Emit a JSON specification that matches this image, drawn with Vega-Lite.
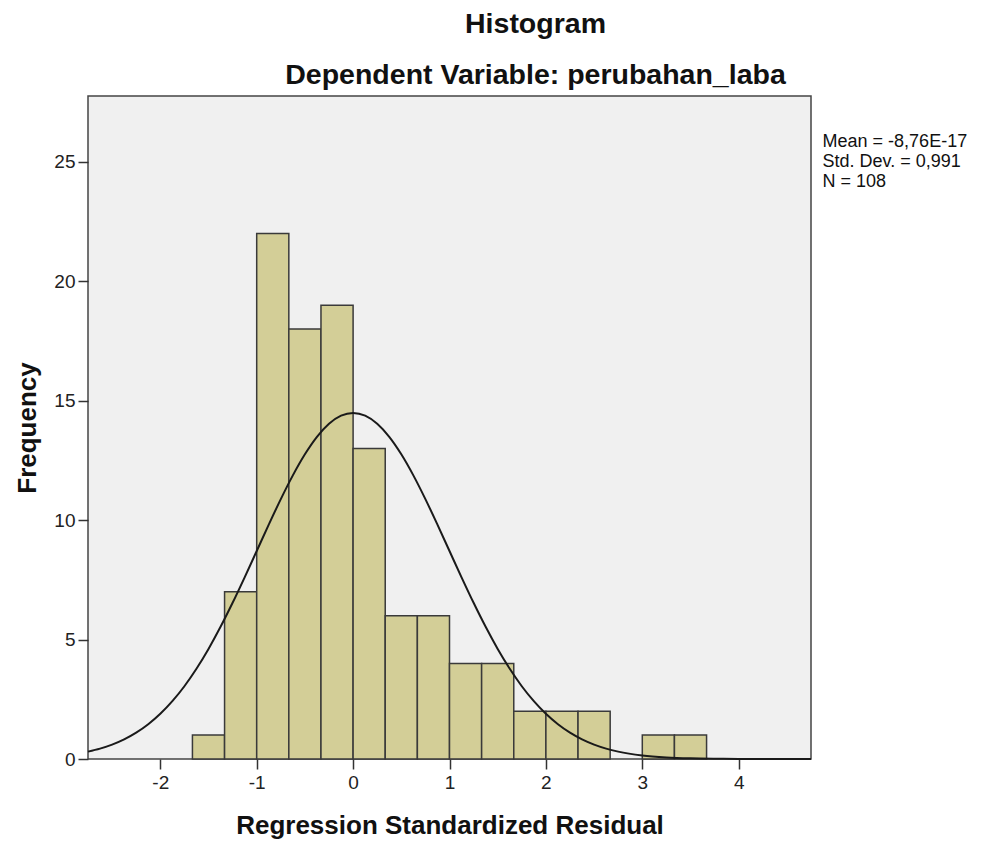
{
  "$schema": "https://vega.github.io/schema/vega-lite/v6.json",
  "autosize": {"type": "none"},
  "width": 723,
  "height": 663,
  "padding": {"left": 88, "top": 96, "right": 173, "bottom": 87},
  "background": "white",
  "title": {
    "text": "Histogram",
    "subtitle": "Dependent Variable: perubahan_laba",
    "anchor": "middle",
    "frame": "group",
    "dx": 86,
    "offset": 7,
    "font": "Liberation Sans",
    "fontSize": 28.5,
    "fontWeight": "bold",
    "color": "#111",
    "subtitleFont": "Liberation Sans",
    "subtitleFontSize": 28.5,
    "subtitleFontWeight": "bold",
    "subtitleColor": "#111",
    "subtitlePadding": 22
  },
  "config": {
    "font": "Liberation Sans",
    "view": {"fill": "#f0f0f0", "stroke": "#444", "strokeWidth": 1.5},
    "axis": {
      "domain": false,
      "grid": false,
      "ticks": true,
      "tickColor": "#333",
      "tickWidth": 1.5,
      "tickSize": 10,
      "labelFont": "Liberation Sans",
      "labelFontSize": 19,
      "labelColor": "#222",
      "titleFont": "Liberation Sans",
      "titleFontSize": 26,
      "titleFontWeight": "bold",
      "titleColor": "#111"
    }
  },
  "layer": [
    {
      "data": {
        "values": [
          {"start": -1.6667, "end": -1.3333, "count": 1},
          {"start": -1.3333, "end": -1.0, "count": 7},
          {"start": -1.0, "end": -0.6667, "count": 22},
          {"start": -0.6667, "end": -0.3333, "count": 18},
          {"start": -0.3333, "end": 0.0, "count": 19},
          {"start": 0.0, "end": 0.3333, "count": 13},
          {"start": 0.3333, "end": 0.6667, "count": 6},
          {"start": 0.6667, "end": 1.0, "count": 6},
          {"start": 1.0, "end": 1.3333, "count": 4},
          {"start": 1.3333, "end": 1.6667, "count": 4},
          {"start": 1.6667, "end": 2.0, "count": 2},
          {"start": 2.0, "end": 2.3333, "count": 2},
          {"start": 2.3333, "end": 2.6667, "count": 2},
          {"start": 3.0, "end": 3.3333, "count": 1},
          {"start": 3.3333, "end": 3.6667, "count": 1}
        ]
      },
      "mark": {"type": "rect", "fill": "#d3ce97", "stroke": "#3a3a3a", "strokeWidth": 1.5},
      "encoding": {
        "x": {
          "field": "start",
          "type": "quantitative",
          "scale": {"domain": [-2.75, 4.75], "nice": false, "zero": false},
          "axis": {
            "values": [-2, -1, 0, 1, 2, 3, 4],
            "labelExpr": "'' + datum.value",
            "title": "Regression Standardized Residual",
            "labelPadding": 4,
            "titlePadding": 20
          }
        },
        "x2": {"field": "end"},
        "y": {
          "field": "count",
          "type": "quantitative",
          "scale": {"domain": [0, 27.76], "nice": false},
          "axis": {
            "values": [0, 5, 10, 15, 20, 25],
            "labelExpr": "'' + datum.value",
            "title": "Frequency",
            "labelPadding": 3,
            "titlePadding": 13
          }
        },
        "y2": {"datum": 0}
      }
    },
    {
      "data": {
        "values": [
          {"x": -2.75, "y": 0.308}, {"x": -2.625, "y": 0.434}, {"x": -2.5, "y": 0.601},
          {"x": -2.375, "y": 0.820}, {"x": -2.25, "y": 1.101}, {"x": -2.125, "y": 1.454},
          {"x": -2.0, "y": 1.891}, {"x": -1.875, "y": 2.420}, {"x": -1.75, "y": 3.047},
          {"x": -1.625, "y": 3.778}, {"x": -1.5, "y": 4.608}, {"x": -1.375, "y": 5.534},
          {"x": -1.25, "y": 6.540}, {"x": -1.125, "y": 7.607}, {"x": -1.0, "y": 8.709},
          {"x": -0.875, "y": 9.813}, {"x": -0.75, "y": 10.882}, {"x": -0.625, "y": 11.876},
          {"x": -0.5, "y": 12.758}, {"x": -0.375, "y": 13.489}, {"x": -0.25, "y": 14.037},
          {"x": -0.125, "y": 14.375}, {"x": 0.0, "y": 14.49}, {"x": 0.125, "y": 14.375},
          {"x": 0.25, "y": 14.037}, {"x": 0.375, "y": 13.489}, {"x": 0.5, "y": 12.758},
          {"x": 0.625, "y": 11.876}, {"x": 0.75, "y": 10.882}, {"x": 0.875, "y": 9.813},
          {"x": 1.0, "y": 8.709}, {"x": 1.125, "y": 7.607}, {"x": 1.25, "y": 6.540},
          {"x": 1.375, "y": 5.534}, {"x": 1.5, "y": 4.608}, {"x": 1.625, "y": 3.778},
          {"x": 1.75, "y": 3.047}, {"x": 1.875, "y": 2.420}, {"x": 2.0, "y": 1.891},
          {"x": 2.125, "y": 1.454}, {"x": 2.25, "y": 1.101}, {"x": 2.375, "y": 0.820},
          {"x": 2.5, "y": 0.601}, {"x": 2.625, "y": 0.434}, {"x": 2.75, "y": 0.308},
          {"x": 3.0, "y": 0.148}, {"x": 3.25, "y": 0.067}, {"x": 3.5, "y": 0.028},
          {"x": 3.75, "y": 0.011}, {"x": 4.0, "y": 0.004}, {"x": 4.25, "y": 0.001},
          {"x": 4.5, "y": 0.0}, {"x": 4.75, "y": 0.0}
        ]
      },
      "mark": {"type": "line", "color": "#1a1a1a", "strokeWidth": 2, "interpolate": "monotone"},
      "encoding": {
        "x": {"field": "x", "type": "quantitative"},
        "y": {"field": "y", "type": "quantitative"}
      }
    },
    {
      "data": {"values": [{"stats": ["Mean = -8,76E-17", "Std. Dev. = 0,991", "N = 108"]}]},
      "mark": {
        "type": "text",
        "align": "left",
        "baseline": "top",
        "fontSize": 18,
        "lineHeight": 20,
        "color": "#111",
        "font": "Liberation Sans"
      },
      "encoding": {
        "x": {"datum": 4.87},
        "y": {"datum": 26.2},
        "text": {"field": "stats"}
      }
    }
  ]
}
